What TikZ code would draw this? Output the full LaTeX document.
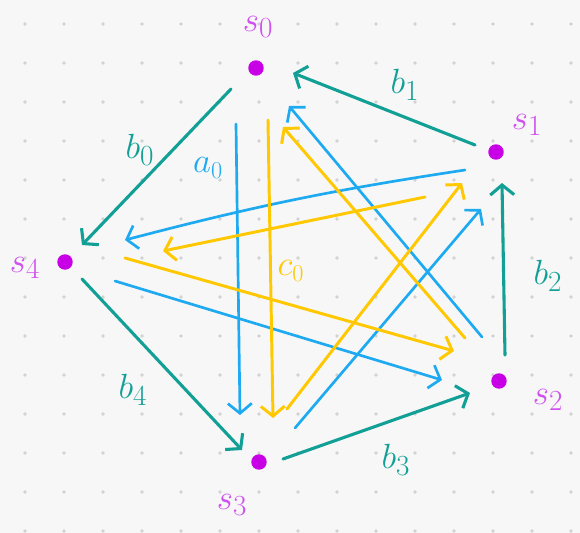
\documentclass[tikz,border=0pt]{standalone}
\usepackage{tikz}
\usetikzlibrary{arrows.meta,calc,positioning}
\definecolor{stpurple}{HTML}{C800E6}
\definecolor{lblpurple}{HTML}{D050F0}
\definecolor{bteal}{HTML}{12A096}
\definecolor{ablue}{HTML}{1EAAF0}
\definecolor{cyellow}{HTML}{FFC800}
\definecolor{paper}{HTML}{F7F7F7}
\definecolor{griddot}{HTML}{D2D2D2}
\tikzset{
  pentafig/.style={x=0.025cm,y=-0.025cm,line cap=round,line join=round,
    >={Straight Barb[length=7pt,width=17pt]}},
  statedot/.style={circle,fill=stpurple,inner sep=0pt,minimum size=11pt},
  statelabel/.style={text=lblpurple,font=\fontsize{32}{34}\selectfont},
  bedge/.style={draw=bteal,line width=2.2pt,->},
  aedge/.style={draw=ablue,line width=1.9pt,->},
  cedge/.style={draw=cyellow,line width=2.1pt,->},
  blabel/.style={text=bteal,font=\fontsize{29}{31}\selectfont},
  innerlabel/.style={font=\fontsize{24}{26}\selectfont},
}

\begin{document}
\begin{tikzpicture}[pentafig]
    % paper with dot grid
    \fill[paper] (0,0) rectangle (580,533);
    \foreach \i in {0,...,14}
      \foreach \j in {0,...,13}
        \fill[griddot] (25+39*\i,24+39*\j) circle (1.4pt);

    % states
    \node[statedot] (s0) at (256,68) {};
    \node[statedot] (s1) at (496,152) {};
    \node[statedot] (s2) at (499,381) {};
    \node[statedot] (s3) at (259,462) {};
    \node[statedot] (s4) at (65,262) {};
    \node[statelabel] (lzero) at (258,27) {$s_0$};
    \node[statelabel] (lone) at (527,125) {$s_1$};
    \node[statelabel] (ltwo) at (548,400) {$s_2$};
    \node[statelabel] (lthree) at (232,505) {$s_3$};
    \node[statelabel] (lfour) at (25,268) {$s_4$};

    % outer cycle
    \draw[bedge] ([shift={(-25,21)}]s0.center) -- ([shift={(17,-17)}]s4.center);
    \draw[bedge] ([shift={(-21,-7)}]s1.center) -- ([shift={(37,5)}]s0.center);
    \draw[bedge] ([shift={(6,-26)}]s2.center) -- ([shift={(6,31)}]s1.center);
    \draw[bedge] ([shift={(24,-3)}]s3.center) -- ([shift={(-29,12)}]s2.center);
    \draw[bedge] ([shift={(17,17)}]s4.center) -- ([shift={(-17,-12)}]s3.center);
    \node[blabel] (bzero) at (140,150) {$b_0$};
    \node[blabel] (bone) at (405,85) {$b_1$};
    \node[blabel] (btwo) at (548,276) {$b_2$};
    \node[blabel] (bthree) at (396,460) {$b_3$};
    \node[blabel] (bfour) at (133,390) {$b_4$};

    % star, blue
    \draw[aedge] ([shift={(-20,56)}]s0.center) -- ([shift={(-19,-47)}]s3.center);
    \draw[aedge] ([shift={(-31,18)}]s1.center) to[bend right=3]
      ([shift={(60,-22)}]s4.center);
    \draw[aedge] ([shift={(50,19)}]s4.center) -- ([shift={(-57,-1)}]s2.center);
    \draw[aedge] ([shift={(-17,-44)}]s2.center) -- ([shift={(33,38)}]s0.center);
    \draw[aedge] ([shift={(36,-34)}]s3.center) -- ([shift={(-15,57)}]s1.center);
    \node[innerlabel,text=ablue] (azero) at (208,168) {$a_0$};

    % star, yellow
    \draw[cedge] ([shift={(12,52)}]s0.center) -- ([shift={(14,-44)}]s3.center);
    \draw[cedge] ([shift={(-71,45)}]s1.center) -- ([shift={(98,-11)}]s4.center);
    \draw[cedge] ([shift={(60,-4)}]s4.center) -- ([shift={(-45,-30)}]s2.center);
    \draw[cedge] ([shift={(-34,-43)}]s2.center) -- ([shift={(27,59)}]s0.center);
    \draw[cedge] ([shift={(28,-53)}]s3.center) -- ([shift={(-34,31)}]s1.center);
    \node[innerlabel,text=cyellow] (czero) at (291,271) {$c_0$};
\end{tikzpicture}
\end{document}
